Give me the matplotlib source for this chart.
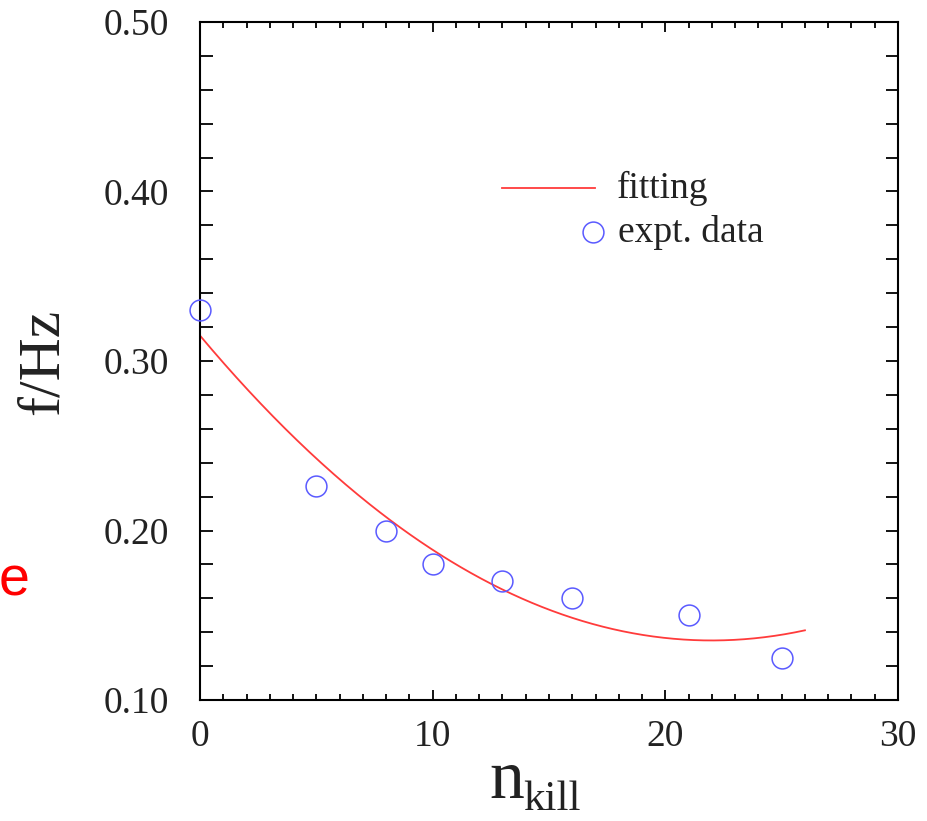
import numpy as np
import matplotlib
matplotlib.use("Agg")
import matplotlib.pyplot as plt
from matplotlib.ticker import MultipleLocator, FormatStrFormatter
from matplotlib.lines import Line2D

# experimental frequency vs. number of killed units
n_kill = [0, 5, 8, 10, 13, 16, 21, 25]
freq = [0.330, 0.226, 0.200, 0.180, 0.170, 0.160, 0.150, 0.125]

# quadratic fit: f = c2*n^2 + c1*n + c0, drawn over n in [0, 26]
fit_coeffs = [0.000372, -0.01636, 0.315]
fit_range = [0, 26]

plt.rcParams["font.family"] = ["Liberation Serif", "DejaVu Serif"]

fig = plt.figure(figsize=(9.27, 8.21), dpi=100)
ax = fig.add_axes([200 / 927, 1 - 700 / 821, 698 / 927, 678 / 821])

xf = np.linspace(fit_range[0], fit_range[1], 300)
ax.plot(xf, np.polyval(fit_coeffs, xf), color="#ff3b3b", lw=1.3, zorder=2)
ax.plot(n_kill, freq, linestyle="none", marker="o", ms=15, mfc="none",
        mec="#5a5aff", mew=1.1, zorder=3, clip_on=False)

ax.set_xlim(0, 30)
ax.set_ylim(0.10, 0.50)
ax.xaxis.set_major_locator(MultipleLocator(10))
ax.xaxis.set_minor_locator(MultipleLocator(1))
ax.yaxis.set_major_locator(MultipleLocator(0.10))
ax.yaxis.set_minor_locator(MultipleLocator(0.02))
ax.yaxis.set_major_formatter(FormatStrFormatter("%.2f"))

for s in ax.spines.values():
    s.set_linewidth(1.5)
ax.tick_params(which="both", direction="in", top=True, right=True,
               width=1.3, labelsize=27, colors="black")
ax.tick_params(axis="x", which="major", length=7, pad=14)
ax.tick_params(axis="x", which="minor", length=4)
ax.tick_params(axis="y", which="major", length=9, pad=22)
ax.tick_params(axis="y", which="minor", length=9)
for lbl in ax.get_xticklabels() + ax.get_yticklabels():
    lbl.set_color("#222222")

# x label: "n" with subscript "kill"
fig.text(489 / 927, 1 - 798 / 821, "n", fontsize=50, ha="left",
         va="baseline", color="#222222")
fig.text(523 / 927, 1 - 810 / 821, "kill", fontsize=31, ha="left",
         va="baseline", color="#222222")

fig.text(44 / 927, 1 - 362 / 821, "f/Hz", rotation=90, fontsize=43,
         ha="center", va="center", color="#222222")

# legend entries
ax.add_line(Line2D([0.433, 0.566], [0.755, 0.755], transform=ax.transAxes,
                   color="#ff3b3b", lw=1.3))
ax.text(0.597, 0.740, "fitting", transform=ax.transAxes, fontsize=27,
        va="baseline", ha="left", color="#222222")
ax.add_line(Line2D([0.563], [0.690], transform=ax.transAxes, linestyle="none",
                   marker="o", ms=15, mfc="none", mec="#5a5aff", mew=1.1))
ax.text(0.599, 0.675, "expt. data", transform=ax.transAxes, fontsize=27,
        va="baseline", ha="left", color="#222222")

fig.text(14 / 927, 1 - 582 / 821, "e", fontsize=40, color="red",
         family="Liberation Sans", ha="center", va="center")

fig.savefig("out.png", dpi=100)
